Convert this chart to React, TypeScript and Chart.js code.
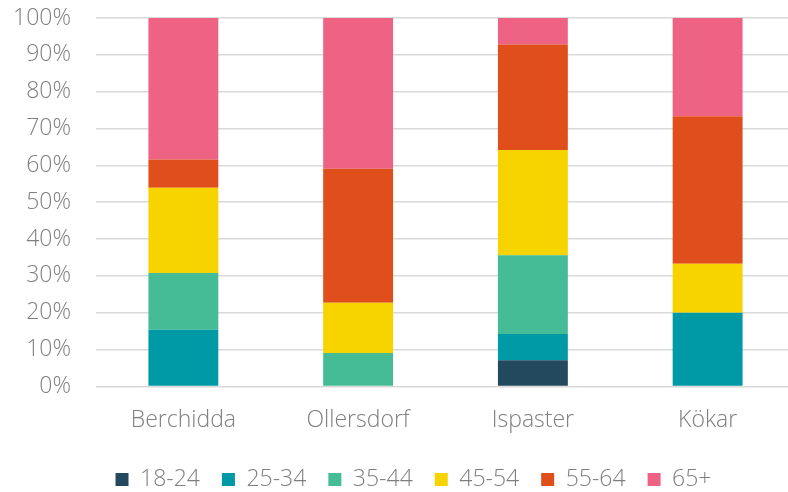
import React, { useEffect, useRef } from "react";
import { Chart, registerables } from "chart.js";

Chart.register(...registerables);

const categories = ["Berchidda", "Ollersdorf", "Ispaster", "Kökar"];
const ageGroups = ["18-24", "25-34", "35-44", "45-54", "55-64", "65+"];
const s18_24 = [null, null, 7.1, null];
const s25_34 = [15.4, null, 7.1, 20.0];
const s35_44 = [15.4, 9.1, 21.4, null];
const s45_54 = [23.1, 13.6, 28.6, 13.3];
const s55_64 = [7.7, 36.4, 28.6, 40.0];
const s65plus = [38.5, 40.9, 7.2, 26.7];
const yTicks = [0, 10, 20, 30, 40, 50, 60, 70, 80, 90, 100];

const colors = ["#22495e", "#009aa6", "#45bb96", "#f7d300", "#e04e1c", "#ee6284"];

const legendShift = {
  id: "legendShift",
  afterLayout(chart: any) {
    const lg = chart.legend;
    if (!lg) return;
    const dx = 16;
    lg.left += dx;
    lg.right += dx;
  },
};

export default function App() {
  const ref = useRef<HTMLCanvasElement | null>(null);
  useEffect(() => {
    document.body.style.margin = "0";
    const series = [s18_24, s25_34, s35_44, s45_54, s55_64, s65plus];
    const font = { family: "'Open Sans', sans-serif", size: 23, weight: 300 as any };
    const chart = new Chart(ref.current!, {
      type: "bar",
      data: {
        labels: categories,
        datasets: ageGroups.map((g, i) => ({
          label: g,
          data: series[i] as any,
          backgroundColor: colors[i],
          borderWidth: 0,
          categoryPercentage: 0.8,
          barPercentage: 0.5,
        })),
      },
      plugins: [legendShift],
      options: {
        animation: false,
        responsive: false,
        maintainAspectRatio: false,
        layout: { padding: { left: 0, top: 18, right: 5, bottom: -9 } },
        plugins: {
          legend: {
            position: "bottom",
            labels: {
              font,
              color: "#7f7f7f",
              boxWidth: 13,
              boxHeight: 13,
              padding: 22,
            },
          },
          tooltip: { enabled: false },
        },
        scales: {
          x: {
            stacked: true,
            afterFit: (axis: any) => {
              axis.height -= 8;
            },
            grid: { display: false, drawTicks: false },
            border: { display: false },
            ticks: { font, color: "#7f7f7f", padding: 20 },
          },
          y: {
            stacked: true,
            min: 0,
            max: 100,
            afterFit: (axis: any) => {
              axis.width = 96;
            },
            afterBuildTicks: (axis: any) => {
              axis.ticks = yTicks.map((v) => ({ value: v }));
            },
            grid: {
              color: "#d9d9d9",
              lineWidth: 1.5,
              drawTicks: true,
              tickLength: 25,
              tickColor: "rgba(0,0,0,0)",
            },
            border: { display: false },
            ticks: {
              font,
              color: "#7f7f7f",
              padding: 0,
              callback: (v: any) => v + "%",
            },
          },
        },
      },
    });
    return () => chart.destroy();
  }, []);
  return (
    <div style={{ width: 788, height: 492, overflow: "hidden", position: "relative" }}>
      <canvas ref={ref} width={800} height={492} style={{ display: "block", width: 800, height: 492 }} />
    </div>
  );
}
